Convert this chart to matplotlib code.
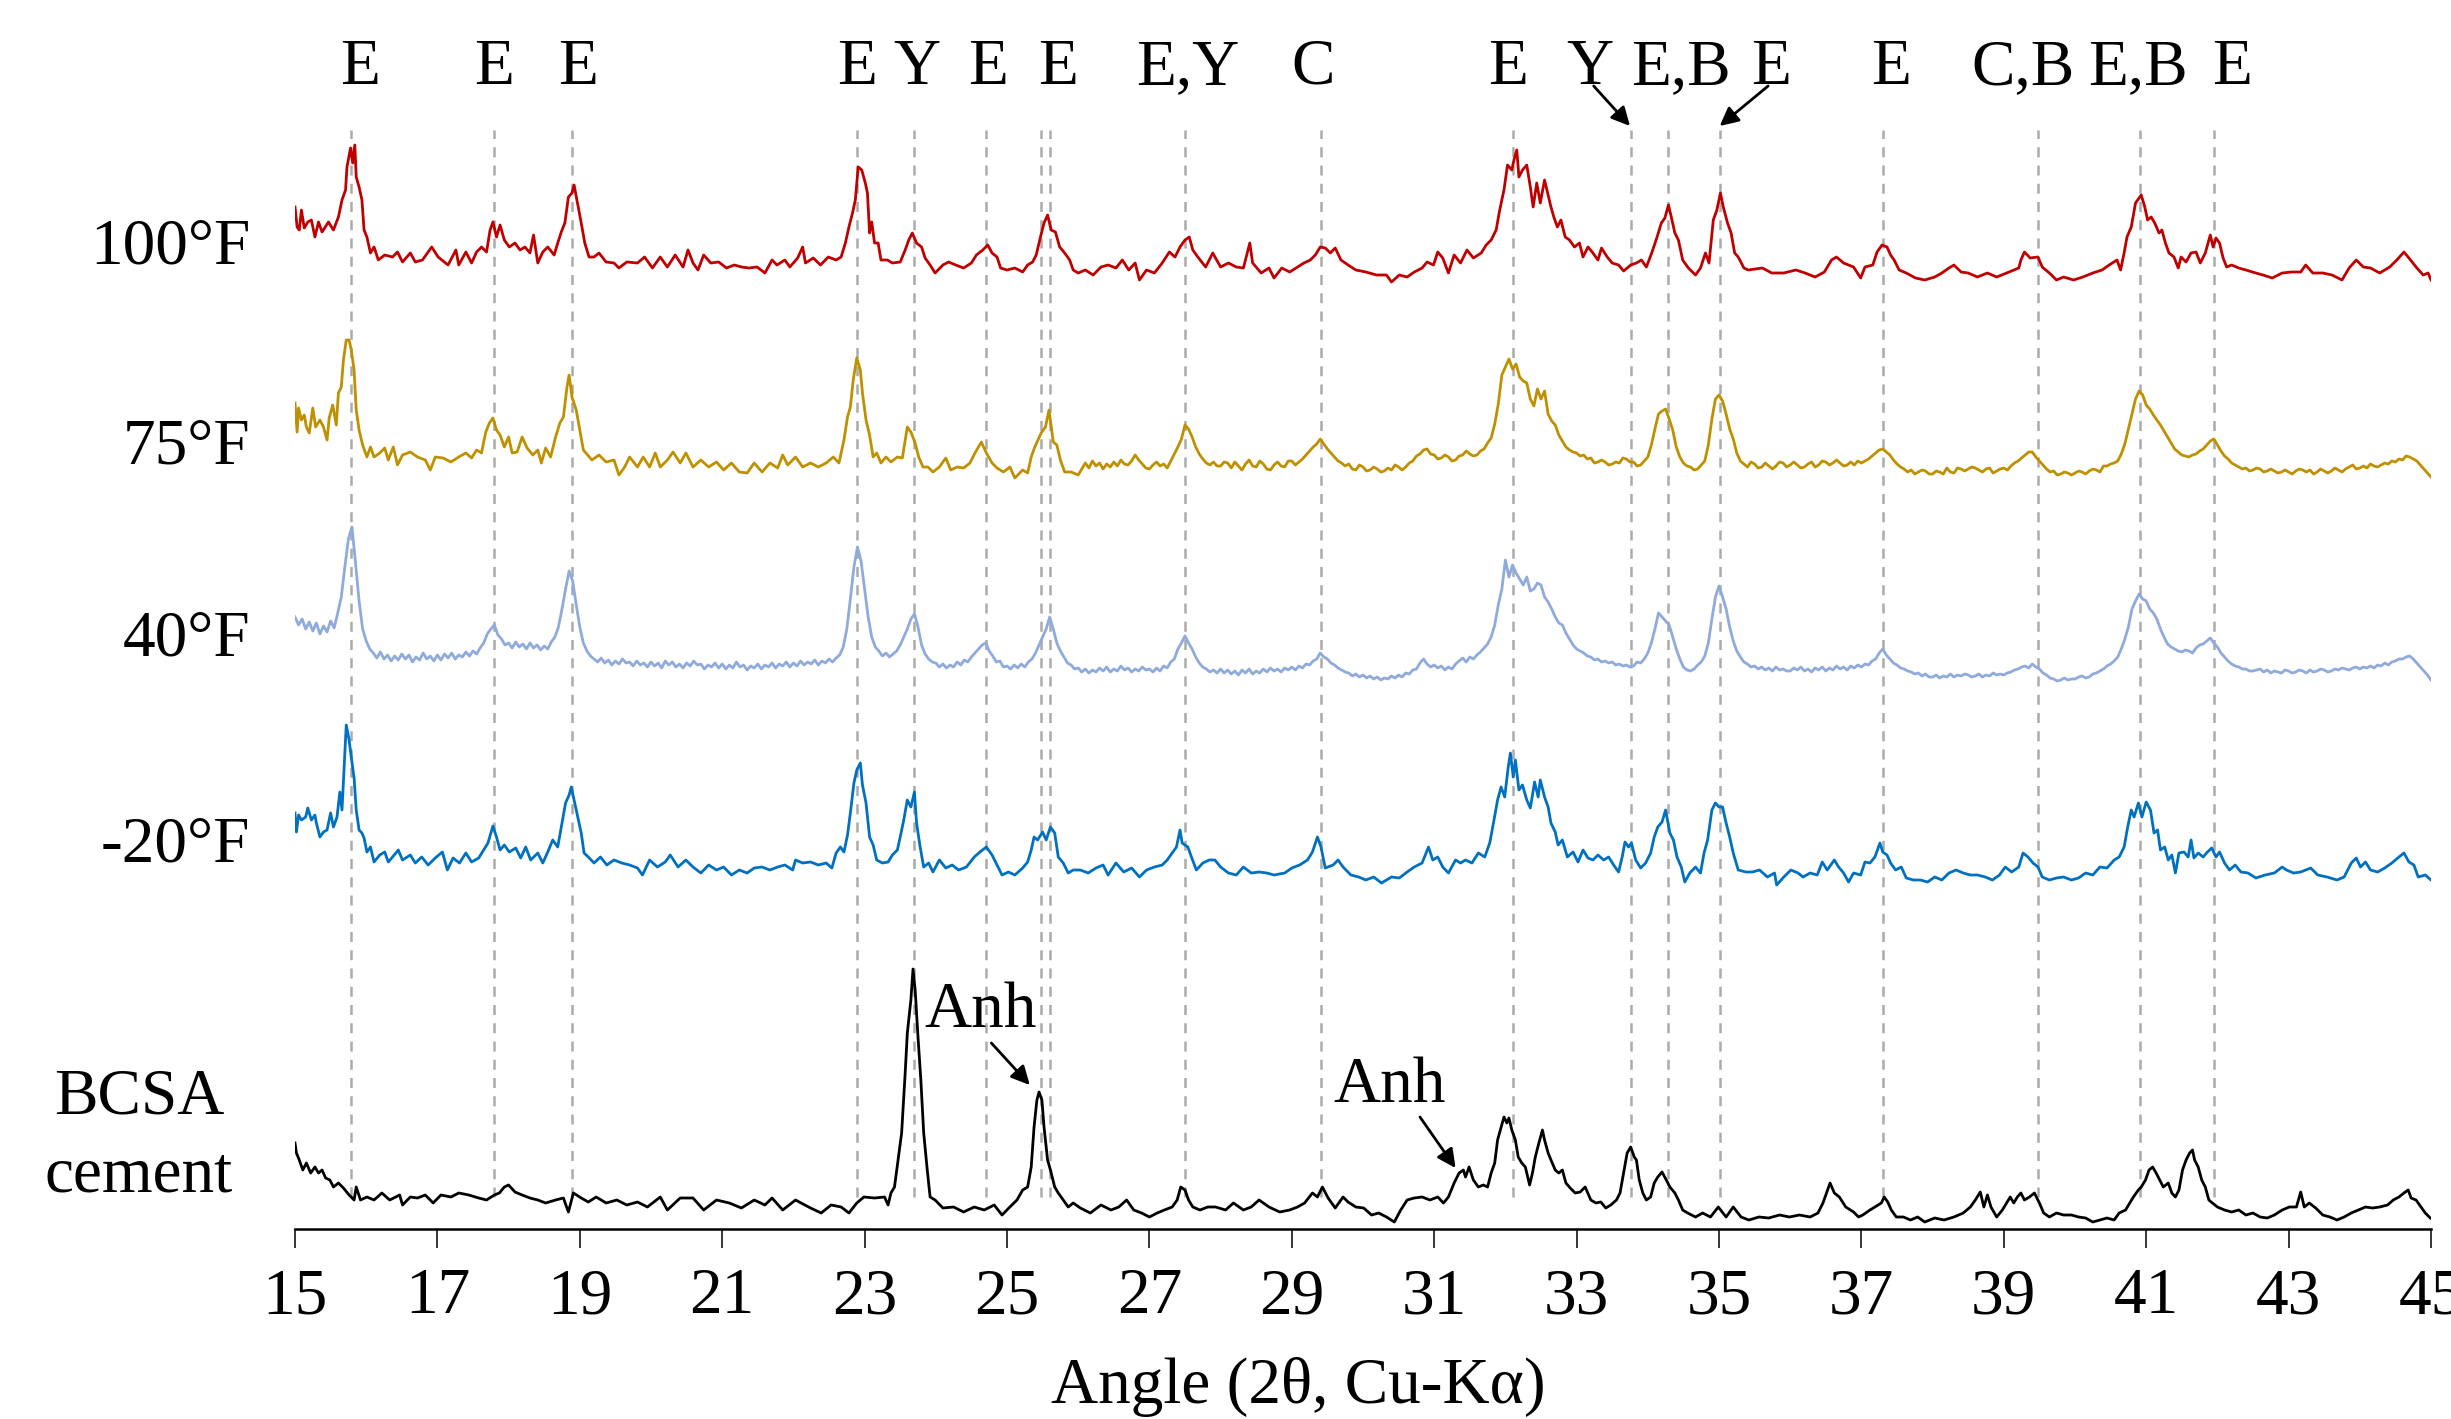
import matplotlib.pyplot as plt

plt.rcParams['font.family'] = ['Liberation Serif', 'DejaVu Serif']

# (2-theta, counts above each trace's offset)
scan_100F = [(15.0,72),(15.03,52),(15.06,49),(15.09,69),(15.13,51),(15.18,57),(15.23,59),(15.28,42),(15.33,57),(15.38,47),(15.47,57),(15.54,49),(15.61,62),(15.66,79),(15.71,89),(15.73,112),(15.78,131),(15.81,116),(15.84,134),(15.86,102),(15.9,92),(15.94,79),(15.97,49),(16.01,42),(16.06,26),(16.11,32),(16.17,19),(16.26,24),(16.37,22),(16.44,27),(16.51,17),(16.62,26),(16.69,17),(16.79,19),(16.92,32),(17.01,22),(17.15,14),(17.26,29),(17.3,14),(17.4,27),(17.48,16),(17.55,27),(17.62,32),(17.69,27),(17.74,49),(17.78,57),(17.83,42),(17.88,54),(17.94,39),(18.01,32),(18.09,36),(18.16,29),(18.23,32),(18.3,26),(18.35,44),(18.41,16),(18.48,27),(18.55,32),(18.64,24),(18.69,36),(18.74,47),(18.79,56),(18.84,82),(18.89,86),(18.92,94),(18.96,79),(19.02,56),(19.07,36),(19.13,22),(19.2,22),(19.27,26),(19.37,17),(19.48,16),(19.55,11),(19.66,17),(19.81,16),(19.91,22),(20.02,11),(20.13,22),(20.23,12),(20.34,24),(20.45,12),(20.52,29),(20.59,16),(20.66,9),(20.74,24),(20.84,16),(20.95,17),(21.06,11),(21.17,14),(21.27,12),(21.38,11),(21.49,12),(21.6,6),(21.7,19),(21.77,14),(21.88,19),(21.95,12),(22.06,21),(22.13,32),(22.17,16),(22.28,21),(22.38,14),(22.49,22),(22.6,19),(22.67,22),(22.73,36),(22.78,52),(22.83,66),(22.87,79),(22.91,112),(22.96,109),(23.01,96),(23.04,86),(23.07,46),(23.1,57),(23.14,36),(23.19,36),(23.23,19),(23.32,19),(23.39,16),(23.5,17),(23.57,29),(23.62,39),(23.67,46),(23.73,36),(23.8,32),(23.85,21),(23.92,14),(23.99,6),(24.1,14),(24.18,17),(24.28,14),(24.39,11),(24.5,16),(24.57,24),(24.66,29),(24.73,34),(24.79,26),(24.86,22),(24.91,11),(25.0,9),(25.11,11),(25.22,7),(25.29,14),(25.36,17),(25.41,24),(25.47,42),(25.52,56),(25.57,64),(25.62,49),(25.68,47),(25.74,32),(25.81,26),(25.88,19),(25.93,9),(26.0,6),(26.1,9),(26.21,4),(26.32,12),(26.42,14),(26.53,11),(26.62,19),(26.71,9),(26.8,16),(26.86,-1),(26.96,9),(27.07,6),(27.18,16),(27.28,27),(27.36,22),(27.43,32),(27.5,39),(27.56,42),(27.61,29),(27.68,22),(27.79,12),(27.89,26),(28.0,12),(28.11,16),(28.22,12),(28.32,11),(28.41,36),(28.45,16),(28.57,6),(28.68,11),(28.75,1),(28.86,11),(28.97,7),(29.08,12),(29.17,16),(29.26,19),(29.33,24),(29.4,32),(29.47,31),(29.54,26),(29.61,31),(29.69,19),(29.79,14),(29.9,9),(30.04,7),(30.19,4),(30.33,4),(30.4,-3),(30.51,4),(30.62,2),(30.72,7),(30.83,11),(30.9,17),(30.99,14),(31.05,27),(31.12,21),(31.2,6),(31.28,24),(31.37,16),(31.46,29),(31.55,21),(31.66,26),(31.73,34),(31.8,39),(31.87,49),(31.92,69),(31.98,89),(32.03,114),(32.09,109),(32.12,119),(32.16,129),(32.19,102),(32.24,109),(32.3,114),(32.35,92),(32.39,72),(32.44,96),(32.49,76),(32.55,99),(32.6,84),(32.64,72),(32.68,62),(32.73,52),(32.78,59),(32.84,42),(32.9,39),(32.97,32),(33.04,36),(33.09,22),(33.16,32),(33.23,26),(33.3,19),(33.35,31),(33.43,22),(33.5,16),(33.59,14),(33.66,8),(33.76,14),(33.84,16),(33.91,19),(33.98,12),(34.06,27),(34.13,42),(34.19,56),(34.24,61),(34.29,74),(34.33,62),(34.38,46),(34.43,39),(34.49,19),(34.57,11),(34.67,4),(34.74,11),(34.81,26),(34.86,16),(34.92,59),(34.97,69),(35.02,86),(35.06,72),(35.12,56),(35.17,46),(35.22,26),(35.27,22),(35.35,11),(35.41,9),(35.61,11),(35.74,6),(35.91,6),(36.08,9),(36.21,6),(36.35,2),(36.48,7),(36.58,19),(36.65,22),(36.75,16),(36.89,12),(36.99,1),(37.05,12),(37.16,14),(37.22,27),(37.29,34),(37.36,32),(37.41,24),(37.46,19),(37.53,9),(37.63,6),(37.76,1),(37.89,-1),(38.03,2),(38.13,6),(38.23,11),(38.3,14),(38.4,7),(38.5,6),(38.63,2),(38.77,6),(38.9,2),(39.04,6),(39.14,9),(39.21,11),(39.24,19),(39.29,27),(39.37,21),(39.48,22),(39.54,12),(39.64,6),(39.74,-1),(39.84,2),(39.98,-1),(40.11,2),(40.25,6),(40.38,9),(40.48,14),(40.59,19),(40.64,9),(40.69,26),(40.73,42),(40.79,52),(40.85,76),(40.91,82),(40.93,84),(40.98,72),(41.02,59),(41.07,62),(41.12,56),(41.18,46),(41.22,49),(41.27,36),(41.32,26),(41.39,22),(41.45,11),(41.49,22),(41.56,17),(41.63,26),(41.7,27),(41.76,16),(41.83,26),(41.9,44),(41.94,32),(41.98,41),(42.03,36),(42.08,21),(42.13,12),(42.2,14),(42.3,11),(42.4,9),(42.54,6),(42.64,4),(42.77,1),(42.91,6),(43.04,7),(43.17,7),(43.24,14),(43.34,6),(43.48,6),(43.61,4),(43.75,-1),(43.85,11),(43.95,19),(44.05,12),(44.15,11),(44.28,6),(44.42,12),(44.52,19),(44.62,27),(44.69,21),(44.79,12),(44.89,4),(44.96,6),(45.0,-1)]

scan_75F_head = [(15.0,96),(15.03,67),(15.05,91),(15.09,79),(15.13,84),(15.16,72),(15.2,66),(15.25,91),(15.29,72),(15.35,79),(15.4,72),(15.45,59),(15.48,81),(15.53,94),(15.58,74),(15.61,106),(15.65,112),(15.68,139),(15.72,159),(15.76,159),(15.79,149),(15.83,129),(15.86,89),(15.9,69),(15.95,54),(16.01,42),(16.06,52),(16.11,42),(16.19,46),(16.26,51),(16.31,39),(16.38,52),(16.44,34),(16.51,44),(16.62,47),(16.72,42),(16.83,39),(16.9,29),(16.97,42),(17.08,41),(17.19,37),(17.3,42),(17.4,46),(17.48,41),(17.55,49),(17.62,46),(17.65,57),(17.68,67),(17.73,76),(17.78,81),(17.83,69),(17.88,64),(17.94,52),(18.0,62),(18.05,46),(18.12,47),(18.19,62),(18.26,51),(18.34,44),(18.41,49),(18.46,36),(18.52,51),(18.59,42),(18.66,62),(18.72,76),(18.77,82),(18.82,112),(18.85,124),(18.89,102),(18.95,89),(19.0,69),(19.05,49),(19.11,44),(19.17,39),(19.27,44),(19.37,37),(19.48,39),(19.55,24),(19.63,32),(19.7,42),(19.81,32),(19.89,42),(19.98,32),(20.06,46),(20.13,32),(20.23,39),(20.31,47),(20.41,36),(20.49,46),(20.59,32),(20.7,39),(20.81,32),(20.92,37),(21.02,29),(21.13,36),(21.24,27),(21.35,26),(21.45,36),(21.56,27),(21.67,36),(21.78,31),(21.85,44),(21.92,34),(22.03,42),(22.13,32),(22.24,36),(22.35,32),(22.46,36),(22.56,42),(22.64,36),(22.71,59),(22.76,82),(22.8,92),(22.84,119),(22.89,141),(22.94,129),(22.97,106),(23.02,79),(23.07,64),(23.12,42),(23.17,46),(23.23,36),(23.3,42),(23.37,37),(23.46,42),(23.53,41),(23.57,59),(23.6,72),(23.65,67),(23.71,56),(23.76,42),(23.82,32),(23.89,32),(23.96,27),(24.05,32),(24.14,41),(24.21,29),(24.3,32),(24.39,31),(24.48,36),(24.55,46),(24.64,57),(24.71,46),(24.79,36),(24.86,31),(24.95,27),(25.04,32),(25.11,21),(25.22,29),(25.29,26),(25.34,42),(25.39,52),(25.48,66),(25.54,72),(25.59,89),(25.65,57),(25.7,54),(25.75,39),(25.81,27),(25.9,27)]

# 75°F from 26.00° on, one reading every 0.05°
tail_75F = [
    24, 30, 36, 31, 38, 33, 36, 30, 35, 32, 37, 33, 39, 35, 34, 38, 44, 39, 35, 31,
    30, 34, 37, 33, 35, 31, 38, 45, 52, 60, 74, 70, 62, 52, 45, 40, 36, 34, 37, 33,
    33, 37, 36, 31, 37, 33, 29, 35, 39, 33, 32, 38, 35, 30, 29, 34, 37, 33, 32, 38,
    38, 34, 37, 40, 44, 48, 52, 55, 60, 55, 50, 46, 42, 38, 36, 33, 35, 30, 29, 34,
    32, 28, 29, 32, 30, 27, 28, 31, 29, 34, 32, 29, 32, 36, 38, 43, 45, 49, 50, 45,
    44, 40, 41, 44, 42, 38, 39, 43, 44, 48, 45, 43, 44, 48, 50, 56, 61, 75, 95, 124,
    132, 140, 130, 135, 122, 118, 116, 100, 93, 110, 100, 108, 85, 78, 74, 64, 58, 52, 49, 47,
    46, 43, 44, 40, 41, 36, 37, 39, 37, 34, 35, 37, 36, 41, 40, 37, 37, 33, 34, 38,
    42, 54, 70, 85, 88, 90, 80, 69, 52, 42, 36, 33, 32, 29, 30, 34, 38, 54, 80, 100,
    104, 98, 85, 70, 60, 46, 38, 35, 32, 37, 35, 31, 32, 36, 33, 30, 33, 37, 36, 32,
    34, 37, 34, 31, 32, 35, 37, 32, 34, 38, 37, 34, 36, 39, 36, 33, 34, 37, 34, 38,
    36, 38, 40, 43, 46, 49, 50, 47, 44, 39, 35, 32, 30, 27, 29, 25, 27, 29, 28, 25,
    25, 28, 27, 25, 31, 27, 26, 31, 30, 28, 30, 32, 31, 29, 27, 30, 31, 26, 28, 30,
    31, 29, 33, 36, 38, 41, 44, 47, 47, 42, 38, 34, 30, 27, 28, 24, 25, 27, 26, 24,
    26, 28, 27, 25, 28, 30, 29, 27, 33, 33, 35, 36, 38, 45, 55, 70, 85, 100, 108, 104,
    94, 90, 84, 79, 74, 68, 62, 56, 50, 47, 44, 43, 42, 44, 45, 48, 50, 54, 58, 60,
    54, 48, 43, 40, 36, 34, 32, 30, 31, 28, 29, 31, 30, 27, 28, 30, 28, 26, 27, 29,
    27, 25, 28, 30, 29, 27, 29, 25, 27, 30, 28, 26, 28, 31, 29, 27, 30, 32, 34, 30,
    31, 33, 31, 35, 33, 32, 34, 36, 35, 38, 37, 40, 39, 43, 42, 40, 38, 34, 30, 26,
    22]

# 40°F, one reading every 0.05° from 15.00°
vals_40F = [
    72, 64, 70, 60, 67, 58, 66, 55, 63, 57, 68, 61, 76, 92, 122, 150, 162, 126, 88, 60,
    48, 40, 36, 31, 37, 30, 34, 28, 33, 29, 35, 30, 34, 27, 32, 29, 36, 30, 33, 28,
    34, 29, 35, 31, 36, 30, 34, 32, 37, 33, 38, 35, 41, 46, 55, 60, 64, 54, 50, 44,
    46, 41, 47, 42, 45, 40, 46, 41, 44, 39, 43, 40, 47, 52, 62, 80, 100, 118, 108, 84,
    62, 46, 38, 33, 30, 27, 31, 26, 29, 24, 28, 25, 30, 26, 27, 23, 28, 24, 26, 22,
    27, 23, 26, 21, 28, 24, 27, 22, 25, 21, 26, 23, 28, 24, 25, 20, 24, 22, 26, 21,
    25, 20, 24, 21, 27, 22, 24, 19, 23, 21, 25, 20, 24, 22, 26, 21, 25, 23, 27, 22,
    26, 23, 28, 24, 27, 25, 29, 24, 28, 26, 30, 27, 31, 34, 42, 60, 90, 122, 142, 128,
    100, 72, 52, 42, 38, 33, 36, 32, 35, 38, 44, 52, 60, 70, 75, 62, 44, 35, 30, 27,
    26, 22, 25, 21, 24, 22, 27, 24, 29, 27, 32, 36, 40, 44, 46, 38, 33, 27, 28, 22,
    23, 20, 24, 21, 25, 22, 27, 30, 36, 44, 52, 60, 72, 60, 46, 38, 32, 26, 24, 20,
    21, 17, 20, 16, 19, 17, 21, 18, 22, 17, 20, 18, 23, 19, 21, 17, 20, 18, 22, 19,
    20, 17, 21, 18, 23, 21, 27, 30, 40, 46, 53, 46, 40, 32, 26, 22, 20, 17, 19, 16,
    20, 16, 19, 15, 18, 14, 19, 16, 20, 15, 18, 16, 20, 17, 21, 18, 20, 17, 21, 19,
    22, 19, 23, 21, 25, 24, 28, 30, 36, 32, 30, 26, 24, 21, 19, 17, 16, 13, 15, 12,
    14, 11, 13, 10, 12, 9, 11, 10, 13, 11, 14, 12, 16, 15, 19, 20, 26, 30, 25, 22,
    24, 21, 23, 19, 22, 20, 25, 28, 31, 27, 32, 30, 34, 37, 41, 45, 52, 64, 84, 100,
    129, 112, 124, 116, 110, 104, 112, 98, 100, 106, 104, 92, 87, 80, 72, 66, 64, 56, 50, 44,
    40, 38, 36, 33, 32, 29, 30, 27, 28, 26, 27, 24, 25, 23, 24, 22, 23, 27, 26, 30,
    36, 46, 60, 76, 72, 68, 64, 52, 40, 30, 22, 19, 18, 20, 24, 27, 33, 46, 70, 92,
    103, 92, 80, 62, 48, 38, 32, 27, 25, 22, 23, 20, 22, 19, 21, 18, 22, 19, 20, 18,
    18, 21, 19, 22, 18, 20, 17, 21, 19, 22, 18, 21, 19, 23, 20, 22, 19, 23, 21, 24,
    22, 25, 24, 28, 30, 36, 40, 34, 30, 26, 24, 21, 20, 18, 17, 15, 16, 13, 15, 12,
    12, 14, 11, 13, 12, 15, 12, 14, 13, 15, 14, 12, 13, 15, 12, 14, 13, 16, 14, 15,
    14, 16, 17, 19, 20, 22, 23, 21, 25, 22, 20, 16, 14, 11, 10, 8, 9, 11, 9, 10,
    10, 12, 13, 11, 12, 15, 16, 18, 20, 23, 25, 28, 32, 40, 50, 62, 80, 88, 95, 90,
    88, 80, 76, 70, 60, 52, 45, 42, 40, 38, 37, 39, 38, 36, 41, 44, 45, 48, 51, 46,
    42, 36, 32, 28, 25, 23, 22, 20, 20, 18, 18, 19, 20, 17, 19, 16, 18, 17, 16, 19,
    18, 16, 17, 19, 18, 16, 19, 17, 18, 20, 19, 17, 18, 20, 19, 21, 20, 19, 21, 22,
    20, 22, 21, 23, 21, 24, 23, 26, 24, 27, 28, 30, 30, 32, 33, 30, 26, 22, 18, 14,
    9]

scan_m20F = [(15.0,66),(15.02,47),(15.05,64),(15.09,59),(15.15,62),(15.18,71),(15.23,59),(15.28,64),(15.3,56),(15.35,42),(15.4,47),(15.45,49),(15.5,66),(15.54,52),(15.59,62),(15.63,87),(15.66,69),(15.69,112),(15.72,154),(15.76,139),(15.79,122),(15.83,101),(15.86,69),(15.9,49),(15.94,46),(15.97,41),(16.01,27),(16.06,32),(16.11,17),(16.19,24),(16.26,27),(16.31,17),(16.37,22),(16.45,29),(16.51,19),(16.62,24),(16.69,16),(16.78,22),(16.87,14),(16.97,21),(17.07,27),(17.14,9),(17.22,21),(17.31,16),(17.4,26),(17.48,17),(17.58,21),(17.65,29),(17.71,36),(17.78,53),(17.83,42),(17.88,29),(17.94,34),(18.01,27),(18.1,31),(18.17,21),(18.24,32),(18.31,19),(18.41,26),(18.48,16),(18.55,27),(18.62,39),(18.69,32),(18.74,52),(18.8,76),(18.85,84),(18.88,92),(18.92,79),(18.96,66),(19.02,46),(19.06,26),(19.12,22),(19.2,16),(19.29,22),(19.38,14),(19.48,19),(19.59,16),(19.7,14),(19.81,11),(19.88,4),(19.98,19),(20.09,12),(20.2,17),(20.27,24),(20.38,12),(20.49,19),(20.59,12),(20.7,6),(20.81,14),(20.92,9),(21.02,12),(21.13,4),(21.24,9),(21.35,6),(21.45,11),(21.56,12),(21.67,9),(21.78,12),(21.88,14),(21.99,9),(22.03,19),(22.13,16),(22.24,17),(22.35,14),(22.46,16),(22.54,11),(22.6,26),(22.66,32),(22.71,27),(22.76,44),(22.8,66),(22.85,96),(22.89,109),(22.94,116),(22.97,94),(23.02,76),(23.07,42),(23.12,34),(23.17,19),(23.25,16),(23.33,17),(23.39,24),(23.46,29),(23.5,42),(23.55,59),(23.6,79),(23.65,72),(23.7,87),(23.73,56),(23.78,32),(23.83,12),(23.9,16),(23.96,7),(24.05,19),(24.14,11),(24.23,14),(24.32,9),(24.43,12),(24.54,22),(24.62,27),(24.71,32),(24.79,24),(24.86,14),(24.93,4),(25.02,7),(25.11,4),(25.22,11),(25.29,17),(25.34,29),(25.38,42),(25.43,39),(25.5,47),(25.55,39),(25.61,52),(25.67,46),(25.72,22),(25.79,16),(25.86,6),(25.93,9),(26.03,9),(26.14,6),(26.25,11),(26.35,14),(26.42,4),(26.53,16),(26.64,7),(26.75,11),(26.86,2),(26.96,9),(27.07,12),(27.18,14),(27.25,19),(27.32,26),(27.38,32),(27.43,49),(27.46,36),(27.54,32),(27.59,22),(27.66,9),(27.75,16),(27.84,19),(27.92,19),(28.0,12),(28.11,6),(28.22,4),(28.32,12),(28.43,6),(28.54,7),(28.65,6),(28.75,4),(28.9,6),(29.0,11),(29.11,14),(29.22,19),(29.29,27),(29.36,42),(29.41,32),(29.47,11),(29.58,14),(29.65,19),(29.72,12),(29.83,4),(29.94,2),(30.04,-1),(30.15,2),(30.26,-4),(30.4,2),(30.51,1),(30.62,7),(30.72,12),(30.83,16),(30.92,32),(30.98,19),(31.05,22),(31.12,12),(31.2,6),(31.3,19),(31.37,16),(31.44,19),(31.53,16),(31.62,26),(31.71,22),(31.78,36),(31.84,59),(31.89,79),(31.94,92),(31.99,82),(32.04,112),(32.07,126),(32.11,102),(32.14,119),(32.19,89),(32.24,94),(32.3,79),(32.35,71),(32.41,97),(32.46,82),(32.49,99),(32.55,82),(32.6,72),(32.64,56),(32.7,47),(32.74,34),(32.8,39),(32.87,22),(32.95,27),(33.02,17),(33.09,29),(33.16,21),(33.23,19),(33.3,24),(33.38,19),(33.45,22),(33.52,14),(33.59,7),(33.64,22),(33.68,37),(33.73,32),(33.77,36),(33.83,19),(33.9,11),(33.97,16),(34.04,26),(34.09,42),(34.14,52),(34.2,57),(34.25,69),(34.31,46),(34.36,39),(34.41,22),(34.47,12),(34.52,-3),(34.59,6),(34.67,12),(34.74,6),(34.79,26),(34.84,39),(34.9,69),(34.95,76),(35.0,72),(35.05,72),(35.1,56),(35.15,42),(35.2,26),(35.27,9),(35.38,7),(35.47,7),(35.57,9),(35.68,2),(35.78,6),(35.81,-6),(35.91,2),(36.01,9),(36.11,6),(36.18,2),(36.28,6),(36.38,4),(36.45,17),(36.52,9),(36.62,19),(36.68,12),(36.75,6),(36.82,-3),(36.89,6),(36.99,4),(37.05,17),(37.12,16),(37.19,22),(37.26,36),(37.3,27),(37.36,24),(37.41,16),(37.48,9),(37.56,12),(37.63,1),(37.73,-1),(37.83,-1),(37.93,-3),(38.03,2),(38.13,-1),(38.23,6),(38.33,9),(38.43,6),(38.53,4),(38.63,4),(38.74,2),(38.84,-1),(38.94,4),(39.02,12),(39.11,7),(39.21,12),(39.27,26),(39.34,22),(39.41,16),(39.48,12),(39.54,2),(39.64,-1),(39.74,1),(39.84,2),(39.95,-1),(40.05,1),(40.15,6),(40.25,4),(40.35,12),(40.45,11),(40.55,19),(40.62,22),(40.69,32),(40.74,52),(40.79,69),(40.83,62),(40.89,76),(40.94,62),(41.0,77),(41.06,69),(41.11,46),(41.16,49),(41.2,29),(41.26,32),(41.31,19),(41.36,24),(41.41,6),(41.46,26),(41.53,27),(41.59,22),(41.63,39),(41.67,21),(41.73,26),(41.8,22),(41.86,27),(41.92,31),(41.98,22),(42.03,27),(42.1,16),(42.17,9),(42.25,14),(42.33,7),(42.43,6),(42.54,1),(42.67,4),(42.8,6),(42.91,12),(42.97,9),(43.07,6),(43.17,7),(43.31,11),(43.41,4),(43.54,2),(43.68,-1),(43.78,2),(43.88,16),(43.95,21),(44.01,12),(44.08,17),(44.15,9),(44.25,7),(44.35,11),(44.45,16),(44.55,22),(44.62,26),(44.69,17),(44.76,14),(44.82,2),(44.92,4),(45.0,-1)]

scan_bcsa = [(15.0,86),(15.02,76),(15.06,69),(15.11,59),(15.16,66),(15.22,56),(15.28,62),(15.33,56),(15.38,59),(15.43,51),(15.49,49),(15.54,42),(15.61,46),(15.68,41),(15.76,34),(15.83,29),(15.86,42),(15.92,29),(16.01,32),(16.11,29),(16.22,36),(16.33,29),(16.47,34),(16.51,24),(16.62,32),(16.72,31),(16.83,34),(16.94,26),(17.05,34),(17.19,32),(17.3,36),(17.44,34),(17.58,31),(17.69,29),(17.8,34),(17.87,36),(17.94,42),(18.0,44),(18.09,37),(18.19,34),(18.3,31),(18.41,29),(18.52,26),(18.66,29),(18.77,31),(18.84,17),(18.91,36),(19.02,31),(19.12,27),(19.23,32),(19.37,26),(19.52,29),(19.66,24),(19.81,27),(19.95,22),(20.13,32),(20.23,19),(20.41,31),(20.59,31),(20.74,19),(20.92,29),(21.1,26),(21.27,21),(21.45,29),(21.6,24),(21.7,31),(21.85,19),(22.03,29),(22.24,21),(22.39,16),(22.53,24),(22.67,22),(22.78,16),(22.89,26),(22.99,32),(23.14,31),(23.28,32),(23.33,24),(23.37,36),(23.42,42),(23.47,69),(23.52,96),(23.57,156),(23.6,196),(23.65,229),(23.68,260),(23.71,239),(23.75,192),(23.79,149),(23.83,96),(23.88,59),(23.92,32),(23.99,29),(24.1,21),(24.25,22),(24.39,17),(24.54,22),(24.68,19),(24.82,24),(24.93,14),(25.04,22),(25.14,29),(25.22,39),(25.29,42),(25.34,62),(25.38,102),(25.42,129),(25.45,137),(25.49,129),(25.52,102),(25.57,69),(25.61,59),(25.67,42),(25.72,36),(25.79,29),(25.86,22),(25.93,26),(26.03,21),(26.17,16),(26.32,24),(26.46,19),(26.57,22),(26.68,29),(26.78,19),(26.89,16),(27.0,12),(27.11,16),(27.21,19),(27.32,22),(27.39,29),(27.44,42),(27.5,39),(27.55,29),(27.61,22),(27.71,19),(27.82,22),(27.93,22),(28.07,19),(28.18,26),(28.32,19),(28.43,22),(28.54,29),(28.68,22),(28.83,17),(28.97,19),(29.08,22),(29.18,26),(29.29,36),(29.36,32),(29.43,42),(29.51,31),(29.61,21),(29.72,32),(29.79,27),(29.9,22),(30.01,21),(30.12,14),(30.22,16),(30.33,12),(30.44,7),(30.53,19),(30.62,29),(30.72,31),(30.83,32),(30.94,29),(31.05,32),(31.13,26),(31.2,32),(31.28,46),(31.35,56),(31.41,59),(31.44,52),(31.49,62),(31.55,49),(31.62,42),(31.69,44),(31.75,42),(31.8,56),(31.85,66),(31.89,89),(31.94,102),(31.98,112),(32.02,106),(32.05,111),(32.09,99),(32.14,89),(32.18,72),(32.23,66),(32.28,62),(32.34,44),(32.38,56),(32.42,72),(32.47,86),(32.52,99),(32.55,89),(32.6,76),(32.64,69),(32.7,59),(32.75,56),(32.8,59),(32.85,46),(32.91,41),(32.98,36),(33.05,37),(33.12,42),(33.2,29),(33.27,26),(33.34,27),(33.41,21),(33.48,24),(33.56,29),(33.61,36),(33.66,56),(33.71,76),(33.76,82),(33.81,72),(33.84,69),(33.88,49),(33.93,36),(33.98,29),(34.04,32),(34.09,46),(34.14,52),(34.2,57),(34.26,49),(34.31,42),(34.38,36),(34.43,29),(34.49,19),(34.56,16),(34.67,12),(34.77,16),(34.88,12),(34.99,22),(35.1,12),(35.2,22),(35.31,12),(35.42,9),(35.56,12),(35.7,11),(35.85,14),(35.99,12),(36.13,14),(36.28,12),(36.39,16),(36.46,26),(36.51,36),(36.56,46),(36.62,36),(36.69,32),(36.78,22),(36.89,17),(36.96,12),(37.02,14),(37.12,19),(37.19,22),(37.28,26),(37.32,32),(37.37,27),(37.42,19),(37.49,12),(37.59,12),(37.69,9),(37.79,12),(37.89,7),(38.03,11),(38.16,9),(38.3,12),(38.43,16),(38.53,22),(38.6,29),(38.67,37),(38.72,22),(38.77,34),(38.82,22),(38.9,12),(38.98,19),(39.04,26),(39.09,32),(39.14,26),(39.19,32),(39.24,36),(39.29,29),(39.36,32),(39.43,36),(39.5,26),(39.56,16),(39.64,12),(39.74,16),(39.84,14),(39.95,14),(40.05,12),(40.15,11),(40.25,7),(40.35,9),(40.45,11),(40.55,9),(40.62,16),(40.71,19),(40.77,26),(40.82,32),(40.89,39),(40.93,42),(40.99,49),(41.04,59),(41.09,62),(41.14,56),(41.19,49),(41.24,42),(41.31,46),(41.36,36),(41.41,32),(41.46,39),(41.51,59),(41.56,69),(41.61,76),(41.65,79),(41.68,69),(41.73,62),(41.78,49),(41.83,42),(41.88,29),(41.93,26),(42.0,22),(42.1,19),(42.2,17),(42.3,19),(42.4,14),(42.5,16),(42.6,12),(42.7,11),(42.8,14),(42.91,19),(43.01,22),(43.11,22),(43.17,37),(43.22,22),(43.29,26),(43.38,21),(43.48,14),(43.58,12),(43.68,9),(43.78,12),(43.88,16),(43.98,19),(44.08,22),(44.18,21),(44.28,22),(44.39,24),(44.47,29),(44.55,32),(44.62,36),(44.68,39),(44.72,31),(44.79,29),(44.86,22),(44.92,16),(44.99,11)]

step = 0.05
scan_75F = scan_75F_head + [(26.0 + step * i, v) for i, v in enumerate(tail_75F)]
scan_40F = [(15.0 + step * i, v) for i, v in enumerate(vals_40F)]

trace_labels = ['100°F', '75°F', '40°F', '-20°F']
trace_colors = ['#C00000', '#BF9000', '#8FAADC', '#0070C0', '#000000']
trace_offsets = [950, 730, 540, 350, 0]

peak_lines = [15.79, 17.79, 18.89, 22.90, 23.70, 24.70, 25.48, 25.60, 27.50, 29.41,
              32.11, 33.76, 34.28, 35.01, 37.30, 39.48, 40.91, 41.95]
phase_pos = [15.91, 17.79, 18.98, 22.89, 23.74, 24.73, 25.72, 27.54, 29.30, 32.04,
             33.19, 34.46, 35.73, 37.42, 39.27, 40.89, 42.20]
phase_txt = ['E', 'E', 'E', 'E', 'Y', 'E', 'E', 'E,Y', 'C', 'E',
             'Y', 'E,B', 'E', 'E', 'C,B', 'E,B', 'E']

fs = 47

fig = plt.figure(figsize=(24.51, 14.19), dpi=100)
ax = fig.add_axes([295 / 2451, 190 / 1419, 2136 / 2451, 1189 / 1419])
ax.set_xlim(15, 45)
ax.set_ylim(0, 1189)

ax.vlines(peak_lines, 32, 1099, colors='#ababab', lw=1.8,
          linestyles=(0, (4, 3.3)), zorder=1)

scans = [scan_100F, scan_75F, scan_40F, scan_m20F, scan_bcsa]
for scan, off, c in zip(scans, trace_offsets, trace_colors):
    xs = [p[0] for p in scan]
    ys = [p[1] + off for p in scan]
    ax.plot(xs, ys, color=c, lw=2, zorder=2)

# trace names on the left
label_base = [966, 766, 574, 368]
for txt, yb in zip(trace_labels, label_base):
    ax.text(14.37, yb, txt, ha='right', va='baseline', fontsize=fs, clip_on=False)
ax.text(12.81, 116, 'BCSA', ha='center', va='baseline', fontsize=fs, clip_on=False)
ax.text(12.81, 38, 'cement', ha='center', va='baseline', fontsize=fs, clip_on=False)

# phase letters on top
for x, t in zip(phase_pos, phase_txt):
    ax.text(x, 1145, t, ha='center', va='baseline', fontsize=fs)

arrow = dict(arrowstyle='-|>', color='black', lw=2, mutation_scale=28,
             shrinkA=0, shrinkB=0)
ax.annotate('', xy=(33.75, 1103), xytext=(33.24, 1143), arrowprops=arrow)
ax.annotate('', xy=(35.01, 1103), xytext=(35.69, 1143), arrowprops=arrow)

ax.text(24.63, 202, 'Anh', ha='center', va='baseline', fontsize=fs)
ax.annotate('', xy=(25.32, 144), xytext=(24.78, 186), arrowprops=arrow)
ax.text(30.38, 127, 'Anh', ha='center', va='baseline', fontsize=fs)
ax.annotate('', xy=(31.30, 61), xytext=(30.80, 112), arrowprops=arrow)

for s in ['left', 'right', 'top']:
    ax.spines[s].set_visible(False)
ax.spines['bottom'].set_linewidth(1.8)
ax.set_yticks([])
ax.set_xticks(range(15, 46, 2))
ax.tick_params(axis='x', direction='out', length=14, width=1.1, labelsize=fs, pad=14)

fig.text(1298 / 2451, 16 / 1419, 'Angle (2θ, Cu-Kα)', ha='center', va='baseline', fontsize=fs)

fig.savefig('out.png', dpi=100)
